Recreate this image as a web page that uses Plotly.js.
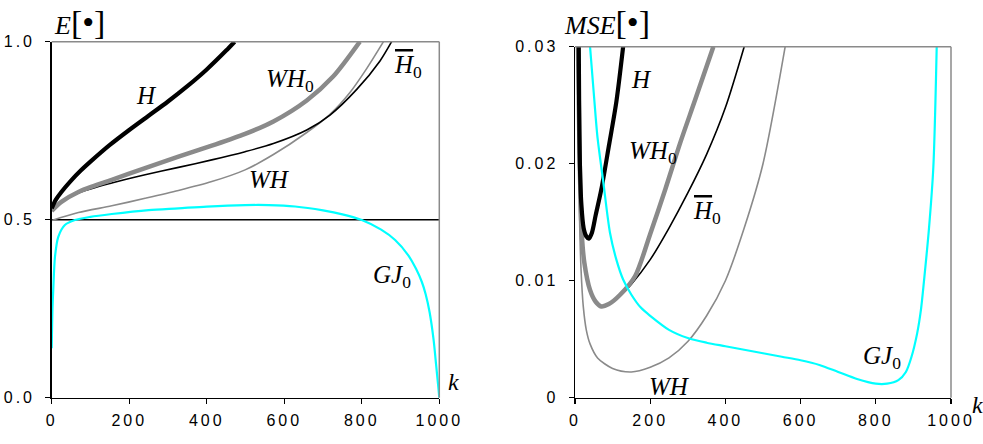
<!DOCTYPE html>
<html>
<head>
<meta charset="utf-8">
<script src="https://cdn.plot.ly/plotly-3.0.1.min.js"></script>
<style>
  html, body { margin: 0; padding: 0; background: #fff; }
  #chart { width: 983px; height: 444px; }
  .xaxislayer-above text, .yaxislayer-above text { letter-spacing: 3px; }
</style>
</head>
<body>
<div id="chart"></div>
<script>
// ---------- Left panel: E[.] versus k ----------
const kH_E   = [0, 10, 25, 50, 75, 100, 150, 200, 250, 300, 350, 400, 450, 472];
const eH     = [0.532, 0.555, 0.578, 0.61, 0.638, 0.663, 0.71, 0.752, 0.792, 0.832, 0.875, 0.922, 0.975, 1.0];

const kWH0_E = [0, 25, 69, 155, 241, 327, 413, 499, 572, 658, 726, 795];
const eWH0   = [0.525, 0.55, 0.578, 0.612, 0.645, 0.677, 0.708, 0.741, 0.776, 0.835, 0.902, 1.0];

const kHb0_E = [0, 25, 69, 155, 241, 327, 413, 499, 572, 658, 718, 787, 847, 877];
const eHb0   = [0.525, 0.55, 0.575, 0.603, 0.626, 0.647, 0.668, 0.691, 0.714, 0.752, 0.794, 0.866, 0.946, 1.0];

const kWH_E  = [0, 69, 155, 241, 327, 413, 499, 572, 658, 718, 770, 813, 856];
const eWH    = [0.498, 0.52, 0.539, 0.56, 0.582, 0.607, 0.64, 0.683, 0.745, 0.796, 0.858, 0.925, 1.0];

const kGJ0_E = [0, 2, 4, 8.5, 17, 34, 60, 100, 155, 250, 327, 400, 499, 560, 628, 700, 750, 800, 850, 886, 920, 940, 955, 965, 975, 985, 992, 997, 1000];
const eGJ0   = [0.139, 0.25, 0.303, 0.396, 0.452, 0.485, 0.499, 0.508, 0.516, 0.527, 0.532, 0.537, 0.541, 0.541, 0.537, 0.526, 0.515, 0.499, 0.472, 0.443, 0.40, 0.362, 0.325, 0.29, 0.24, 0.165, 0.09, 0.035, 0.0];

// ---------- Right panel: MSE[.] versus k ----------
const kH_M   = [10, 11, 13, 17, 23, 30, 37, 45, 55, 70, 90, 110, 128];
const mH     = [0.030, 0.025, 0.020, 0.0165, 0.0145, 0.0138, 0.0136, 0.0141, 0.0156, 0.0178, 0.0215, 0.0253, 0.030];

const kWH0_M = [8, 12, 18, 25, 40, 55, 70, 90, 120, 160, 200, 240, 280, 320, 368];
const mWH0   = [0.030, 0.021, 0.0140, 0.0115, 0.0092, 0.0082, 0.0078, 0.0080, 0.0088, 0.0104, 0.0140, 0.0178, 0.0218, 0.0255, 0.030];

const kHb0_M = [8, 12, 18, 25, 40, 55, 70, 90, 120, 150, 200, 250, 300, 350, 400, 450];
const mHb0   = [0.030, 0.021, 0.0140, 0.0115, 0.0092, 0.0082, 0.0078, 0.0080, 0.0087, 0.0097, 0.0118, 0.0145, 0.0175, 0.0208, 0.0248, 0.030];

const kWH_M  = [7, 9, 12, 16, 22, 30, 40, 60, 100, 150, 200, 250, 300, 350, 400, 450, 500, 559];
const mWH    = [0.030, 0.022, 0.0155, 0.0110, 0.0078, 0.0058, 0.0046, 0.0034, 0.0025, 0.0022, 0.0026, 0.0034, 0.0048, 0.0070, 0.0100, 0.0145, 0.020, 0.030];

const kGJ0_M = [40, 50, 60, 75, 93, 110, 128, 150, 175, 200, 250, 300, 350, 400, 450, 500, 550, 600, 650, 700, 750, 800, 830, 860, 880, 895, 910, 920, 931, 941, 953, 962];
const mGJ0   = [0.030, 0.026, 0.0222, 0.0185, 0.0141, 0.0118, 0.0101, 0.0088, 0.0077, 0.0070, 0.0058, 0.0051, 0.0047, 0.0044, 0.0041, 0.0038, 0.0035, 0.0032, 0.0028, 0.0022, 0.0016, 0.0012, 0.0012, 0.0015, 0.0022, 0.0035, 0.0055, 0.0075, 0.0109, 0.0143, 0.0197, 0.030];

// tick labels
const kTicks = [0, 200, 400, 600, 800, 1000];
const eTicks = [0, 0.5, 1.0];
const eTickText = ['0.0', '0.5', '1.0'];
const mTicks = [0, 0.01, 0.02, 0.03];
const mTickText = ['0', '0.01', '0.02', '0.03'];

const BLACK = '#000000', GRAY = '#8a8a8a', CYAN = '#00ffff';

function tr(x, y, color, width, xa, ya) {
  return { x: x, y: y, type: 'scatter', mode: 'lines',
           line: { color: color, width: width, shape: 'spline', smoothing: 0.8 },
           xaxis: xa, yaxis: ya, hoverinfo: 'skip' };
}

const data = [
  tr(kWH_E, eWH, GRAY, 1.6, 'x', 'y'),
  tr(kHb0_E, eHb0, BLACK, 1.6, 'x', 'y'),
  tr(kWH0_E, eWH0, GRAY, 4.5, 'x', 'y'),
  tr(kH_E, eH, BLACK, 4.2, 'x', 'y'),
  tr(kGJ0_E, eGJ0, CYAN, 2.2, 'x', 'y'),
  tr(kWH_M, mWH, GRAY, 1.6, 'x2', 'y2'),
  tr(kHb0_M, mHb0, BLACK, 1.6, 'x2', 'y2'),
  tr(kWH0_M, mWH0, GRAY, 4.5, 'x2', 'y2'),
  tr(kH_M, mH, BLACK, 4.2, 'x2', 'y2'),
  tr(kGJ0_M, mGJ0, CYAN, 2.2, 'x2', 'y2')
];

const tickFont = { family: 'Liberation Sans, Arial, sans-serif', size: 16, color: '#000' };

function xax(domain, anchor) {
  return { domain: domain, anchor: anchor, range: [0, 1000], tickvals: kTicks,
           ticks: 'outside', ticklen: 5, tickwidth: 1.3, tickcolor: '#000',
           showline: true, linecolor: '#000', linewidth: 1.5, showgrid: false, zeroline: false,
           tickfont: tickFont, ticklabelstandoff: 3, fixedrange: true };
}
function yax(domain, anchor, range, vals, text) {
  return { domain: domain, anchor: anchor, range: range, tickvals: vals, ticktext: text,
           ticks: 'outside', ticklen: 5, tickwidth: 1.3, tickcolor: '#000',
           showline: true, linecolor: '#000', linewidth: 1.5, showgrid: false, zeroline: false,
           tickfont: tickFont, ticklabelstandoff: 7, fixedrange: true };
}

const serif = 'Liberation Serif, Times New Roman, serif';
function lab(text, x, y, xref, yref, size) {
  return { text: text, x: x, y: y, xref: xref, yref: yref, showarrow: false,
           xanchor: 'left', yanchor: 'middle', font: { family: serif, size: size || 25, color: '#000' } };
}

const annotations = [
  // left panel curve labels
  lab('<i>H</i>', 213, 0.85, 'x', 'y'),
  lab('<i>WH</i><sub>0</sub>', 548, 0.89, 'x', 'y'),
  lab('<span style="text-decoration:overline"><i>H</i></span><sub>0</sub>', 878, 0.93, 'x', 'y'),
  lab('<i>WH</i>', 503, 0.614, 'x', 'y'),
  lab('<i>GJ</i><sub>0</sub>', 824, 0.34, 'x', 'y'),
  // right panel curve labels
  lab('<i>H</i>', 144, 0.0272, 'x2', 'y2'),
  lab('<i>WH</i><sub>0</sub>', 139, 0.0210, 'x2', 'y2'),
  lab('<span style="text-decoration:overline"><i>H</i></span><sub>0</sub>', 309, 0.0158, 'x2', 'y2'),
  lab('<i>WH</i>', 192, 0.0010, 'x2', 'y2'),
  lab('<i>GJ</i><sub>0</sub>', 761, 0.0034, 'x2', 'y2'),
  // axis titles
  { text: '<i>E</i><span style="font-size:34px">[•]</span>', x: 52 / 983, y: 1 - 22 / 444,
    xref: 'paper', yref: 'paper', showarrow: false, xanchor: 'left', yanchor: 'middle',
    font: { family: serif, size: 26, color: '#000' } },
  { text: '<i>MSE</i><span style="font-size:34px">[•]</span>', x: 562 / 983, y: 1 - 22 / 444,
    xref: 'paper', yref: 'paper', showarrow: false, xanchor: 'left', yanchor: 'middle',
    font: { family: serif, size: 26, color: '#000' } },
  { text: '<i>k</i>', x: 446 / 983, y: 1 - 382 / 444, xref: 'paper', yref: 'paper', showarrow: false,
    xanchor: 'left', yanchor: 'middle', font: { family: serif, size: 24, color: '#000' } },
  { text: '<i>k</i>', x: 970 / 983, y: 1 - 405 / 444, xref: 'paper', yref: 'paper', showarrow: false,
    xanchor: 'left', yanchor: 'middle', font: { family: serif, size: 24, color: '#000' } }
];

function border(xr, yr) {
  return [
    { type: 'line', xref: xr + ' domain', yref: yr + ' domain', x0: 0, x1: 1, y0: 1, y1: 1,
      line: { color: GRAY, width: 1.5 } },
    { type: 'line', xref: xr + ' domain', yref: yr + ' domain', x0: 1, x1: 1, y0: 0, y1: 1,
      line: { color: GRAY, width: 1.5 } }
  ];
}

const shapes = [].concat(border('x', 'y'), border('x2', 'y2'), [
  { type: 'line', xref: 'x domain', yref: 'y', x0: 0, x1: 1, y0: 0.5, y1: 0.5,
    line: { color: BLACK, width: 1.6 }, layer: 'below' }
]);

const layout = {
  width: 983, height: 444,
  margin: { l: 0, r: 0, t: 0, b: 0 },
  paper_bgcolor: '#fff', plot_bgcolor: '#fff',
  showlegend: false,
  xaxis: xax([51.7 / 983, 439.3 / 983], 'y'),
  yaxis: yax([1 - 397.7 / 444, 1 - 41.7 / 444], 'x', [0, 1.0], eTicks, eTickText),
  xaxis2: xax([575 / 983, 951 / 983], 'y2'),
  yaxis2: yax([1 - 397.7 / 444, 1 - 46.7 / 444], 'x2', [0, 0.03], mTicks, mTickText),
  annotations: annotations,
  shapes: shapes
};

Plotly.newPlot('chart', data, layout, { displayModeBar: false, staticPlot: true });
</script>
</body>
</html>
